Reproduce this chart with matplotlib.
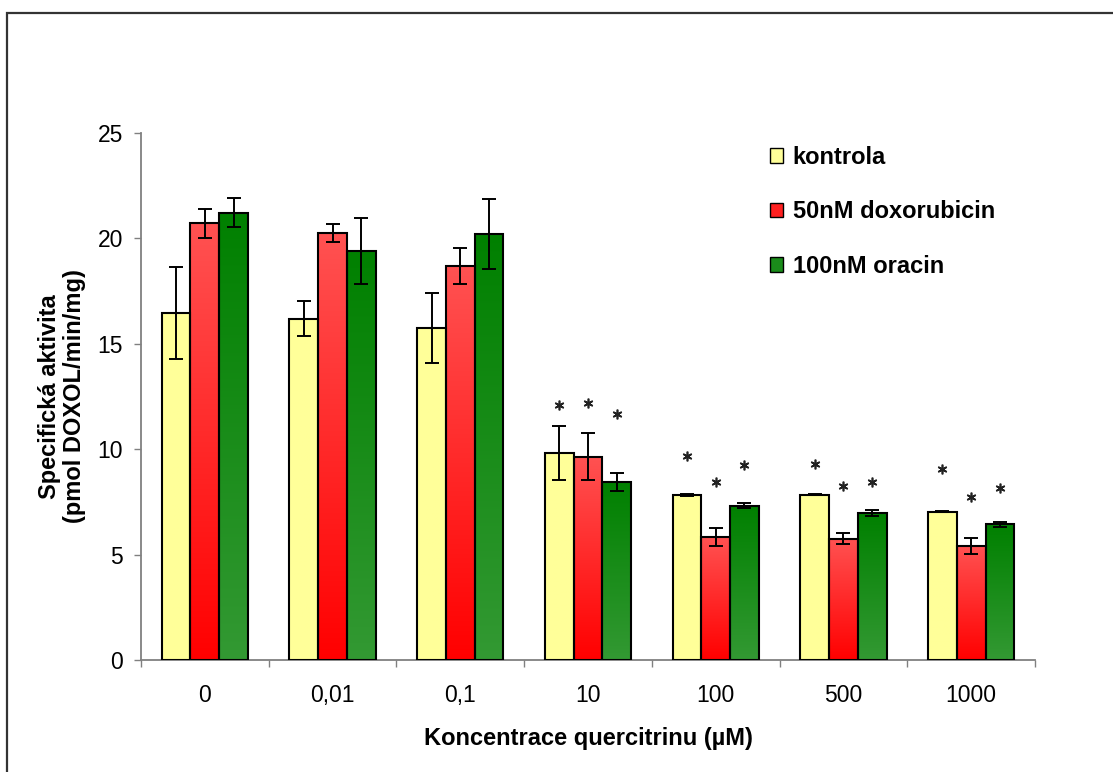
import numpy as np
import matplotlib
matplotlib.use("Agg")
import matplotlib.pyplot as plt
from matplotlib.patches import Rectangle
from matplotlib.colors import LinearSegmentedColormap

plt.rcParams['font.family'] = ['Liberation Sans', 'DejaVu Sans']

concentrations = ["0", "0,01", "0,1", "10", "100", "500", "1000"]
series_names = ["kontrola", "50nM doxorubicin", "100nM oracin"]

kontrola = [16.45, 16.19, 15.75, 9.83, 7.84, 7.84, 7.04]
kontrola_err = [2.17, 0.82, 1.65, 1.27, 0.05, 0.02, 0.03]
doxorubicin = [20.72, 20.27, 18.70, 9.65, 5.83, 5.76, 5.41]
doxorubicin_err = [0.68, 0.43, 0.85, 1.12, 0.43, 0.26, 0.38]
oracin = [21.22, 19.40, 20.20, 8.43, 7.32, 6.96, 6.43]
oracin_err = [0.70, 1.57, 1.65, 0.43, 0.13, 0.15, 0.10]

# significance stars (y of star centre), None = no star
kontrola_star = [None, None, None, 12.10, 9.66, 9.32, 9.04]
doxorubicin_star = [None, None, None, 12.18, 8.43, 8.27, 7.75]
oracin_star = [None, None, None, 11.66, 9.24, 8.43, 8.18]

values = [kontrola, doxorubicin, oracin]
errors = [kontrola_err, doxorubicin_err, oracin_err]
stars = [kontrola_star, doxorubicin_star, oracin_star]

# gradient (top colour, bottom colour) for each series
gradients = [("#FFFF99", "#FFFF99"), ("#FF5252", "#FF0000"), ("#008000", "#339933")]
legend_colors = ["#FFFF99", "#FF2020", "#1A8C1A"]

fig = plt.figure(figsize=(11.13, 7.72), dpi=100)
ax = fig.add_axes([141 / 1113, 1 - 660 / 772, 894 / 1113, 527 / 772])

x = np.arange(len(concentrations))
width = 0.225
handles = []
for i, (vals, errs, st) in enumerate(zip(values, errors, stars)):
    pos = x + (i - 1) * width
    cmap = LinearSegmentedColormap.from_list("g%d" % i, [gradients[i][1], gradients[i][0]])
    bars = ax.bar(pos, vals, width, facecolor="none", edgecolor="black",
                  linewidth=1.5, zorder=3)
    for b in bars:
        x0, w, h = b.get_x(), b.get_width(), b.get_height()
        grad = np.linspace(0, 1, 256).reshape(-1, 1)
        ax.imshow(grad, cmap=cmap, origin="lower", aspect="auto",
                  extent=[x0, x0 + w, 0, h], zorder=2)
    ax.errorbar(pos, vals, yerr=errs, fmt="none", ecolor="black",
                elinewidth=1.4, capsize=5, capthick=1.4, zorder=4)
    sx = [p for p, s in zip(pos, st) if s is not None]
    sy = [s for s in st if s is not None]
    ax.plot(sx, sy, linestyle="none", marker=(6, 2, 0), markersize=7,
            markeredgewidth=1.2, color="#222222", zorder=4)
    handles.append(Rectangle((0, 0), 1, 1, facecolor=legend_colors[i],
                             edgecolor="black", linewidth=1.0))

ax.set_xlim(-0.5, len(concentrations) - 0.5)
ax.set_ylim(0, 25)
ax.set_yticks([0, 5, 10, 15, 20, 25])

ax.set_xticks(np.arange(len(concentrations) + 1) - 0.5)
ax.set_xticklabels([])
ax.set_xticks(x, minor=True)
ax.set_xticklabels(concentrations, minor=True)
ax.tick_params(axis="x", which="minor", length=0, pad=17, labelsize=16.5)
ax.tick_params(axis="x", which="major", length=5, width=1, color="#808080", direction="out")
ax.tick_params(axis="y", length=5, width=1, color="#808080", direction="out",
               pad=8, labelsize=16.5)

for s in ["top", "right"]:
    ax.spines[s].set_visible(False)
for s in ["left", "bottom"]:
    ax.spines[s].set_color("#808080")
    ax.spines[s].set_linewidth(1.3)

ax.set_ylabel("Specifická aktivita\n(pmol DOXOL/min/mg)", fontsize=17,
              fontweight="bold", linespacing=1.1)
ax.yaxis.set_label_coords(-0.062, 0.5)
ax.set_xlabel("Koncentrace quercitrinu (µM)", fontsize=17, fontweight="bold")
ax.xaxis.set_label_coords(0.5, -0.127)

ax.legend(handles, series_names, loc="upper left",
          bbox_to_anchor=(770 / 1113, 1 - 146 / 772), bbox_transform=fig.transFigure,
          frameon=False, prop={"weight": "bold", "size": 17},
          handlelength=0.56, handleheight=0.56, handletextpad=0.4,
          labelspacing=1.33, borderpad=0, borderaxespad=0)

# outer chart frame
fig.patches.append(Rectangle((7 / 1113, -0.1), 1.2, 1 - 13 / 772 + 0.1,
                             transform=fig.transFigure, fill=False,
                             edgecolor="#333333", linewidth=1.6))

fig.savefig("out.png", dpi=100)
